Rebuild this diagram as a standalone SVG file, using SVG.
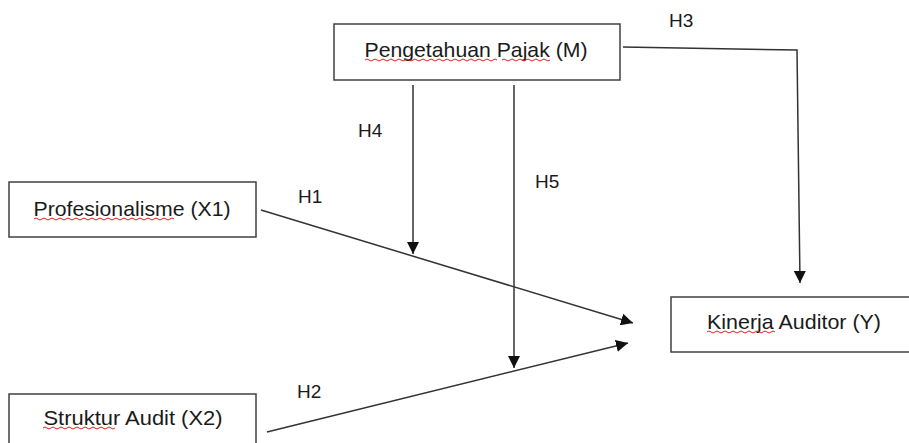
<svg xmlns="http://www.w3.org/2000/svg" width="909" height="443" viewBox="0 0 909 443">
<style>
.box{fill:#fff;stroke:#404040;stroke-width:1.5}
.t{font-family:"Liberation Sans","Open Sans",sans-serif;font-size:21px;fill:#1a1a1a;text-anchor:middle}
.h{font-family:"Liberation Sans","Open Sans",sans-serif;font-size:19px;fill:#1a1a1a}
.c{fill:none;stroke:#333;stroke-width:1.5}
.sq{fill:none;stroke:#e02020;stroke-width:1}
</style>
<defs>
<marker id="ah" markerWidth="12" markerHeight="12" viewBox="0 0 12 12" refX="12" refY="6" orient="auto" markerUnits="userSpaceOnUse">
<path d="M0,0 L12,6 L0,12 Z" fill="#111"/>
</marker>
</defs>
<rect width="909" height="443" fill="#fff"/>
<g id="connectors">
<polyline class="c" points="623,47 797,50 800,283" marker-end="url(#ah)"/>
<line class="c" x1="413" y1="85" x2="413" y2="254" marker-end="url(#ah)"/>
<line class="c" x1="514" y1="85" x2="514" y2="368" marker-end="url(#ah)"/>
<line class="c" x1="261" y1="210" x2="633" y2="323" marker-end="url(#ah)"/>
<line class="c" x1="267" y1="432" x2="628" y2="343" marker-end="url(#ah)"/>
<text class="h" x="669" y="27">H3</text>
<text class="h" x="358" y="137">H4</text>
<text class="h" x="535" y="188">H5</text>
<text class="h" x="298" y="203">H1</text>
<text class="h" x="297" y="398">H2</text>
</g>
<g id="node-m">
<rect class="box" x="334" y="24" width="286" height="56"/>
<text class="t" x="476" y="57" textLength="223" lengthAdjust="spacingAndGlyphs">Pengetahuan Pajak (M)</text>
<path class="sq" d="M365,60 q2,-2 4,0 t4,0 t4,0 t4,0 t4,0 t4,0 t4,0 t4,0 t4,0 t4,0 t4,0 t4,0 t4,0 t4,0 t4,0 t4,0 t4,0 t4,0 t4,0 t4,0 t4,0 t4,0 t4,0 t4,0 t4,0 t4,0 t4,0 t4,0 t4,0 t4,0 t4,0 t4,0 t4,0"/>
<path class="sq" d="M502,60 q2,-2 4,0 t4,0 t4,0 t4,0 t4,0 t4,0 t4,0 t4,0 t4,0 t4,0 t4,0 t4,0"/>
</g>
<g id="node-x1">
<rect class="box" x="9" y="182" width="247" height="55"/>
<text class="t" x="132" y="216" textLength="197" lengthAdjust="spacingAndGlyphs">Profesionalisme (X1)</text>
<path class="sq" d="M34,219 q2,-2 4,0 t4,0 t4,0 t4,0 t4,0 t4,0 t4,0 t4,0 t4,0 t4,0 t4,0 t4,0 t4,0 t4,0 t4,0 t4,0 t4,0 t4,0 t4,0 t4,0 t4,0 t4,0 t4,0 t4,0 t4,0 t4,0 t4,0 t4,0 t4,0 t4,0 t4,0 t4,0 t4,0 t4,0 t4,0"/>
</g>
<g id="node-x2">
<rect class="box" x="9" y="394" width="247" height="60"/>
<text class="t" x="133" y="425" textLength="179" lengthAdjust="spacingAndGlyphs">Struktur Audit (X2)</text>
<path class="sq" d="M43,428 q2,-2 4,0 t4,0 t4,0 t4,0 t4,0 t4,0 t4,0 t4,0 t4,0 t4,0 t4,0 t4,0 t4,0 t4,0 t4,0 t4,0 t4,0 t4,0"/>
</g>
<g id="node-y">
<rect class="box" x="671" y="297" width="245" height="55"/>
<text class="t" x="794" y="329" textLength="174" lengthAdjust="spacingAndGlyphs">Kinerja Auditor (Y)</text>
<path class="sq" d="M707,332 q2,-2 4,0 t4,0 t4,0 t4,0 t4,0 t4,0 t4,0 t4,0 t4,0 t4,0 t4,0 t4,0 t4,0 t4,0 t4,0 t4,0 t4,0"/>
</g>
</svg>
